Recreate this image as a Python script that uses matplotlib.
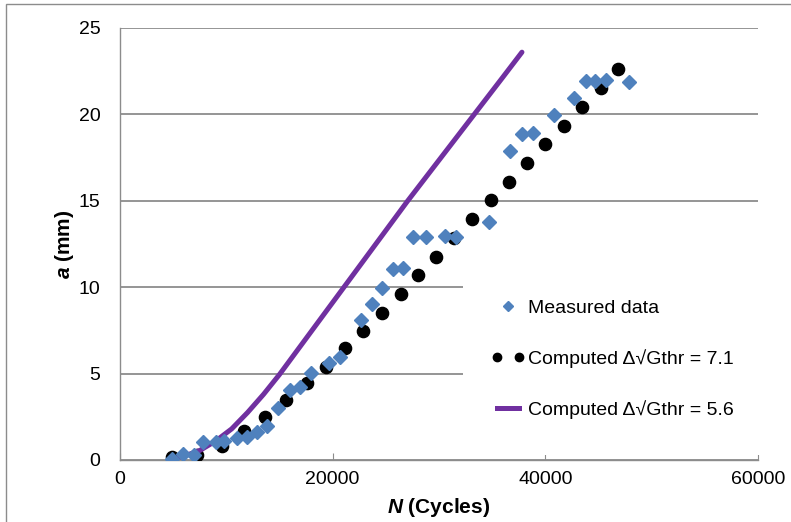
import matplotlib
matplotlib.use('Agg')
import matplotlib.pyplot as plt
from matplotlib.lines import Line2D
from matplotlib.legend_handler import HandlerLine2D
from matplotlib.patches import Rectangle

plt.rcParams['font.family'] = ['Liberation Sans', 'DejaVu Sans']
plt.rcParams['mathtext.fontset'] = 'custom'
plt.rcParams['mathtext.rm'] = 'Liberation Sans:bold'
plt.rcParams['mathtext.bfit'] = 'Liberation Sans:bold:italic'

# ── data ────────────────────────────────────────────────────────
meas_N = [4860, 5960, 6960, 7840, 9000, 9780, 11040, 11920, 12860, 13860,
          14830, 15990, 16930, 17940, 19660, 20700, 22640, 23680, 24680, 25650,
          26650, 27530, 28750, 30570, 31610, 34710, 36690, 37790, 38820, 40830,
          42740, 43840, 44690, 45690, 47880]
meas_a = [0.04, 0.35, 0.29, 1.06, 1.06, 1.12, 1.25, 1.31, 1.62, 1.97,
          2.99, 4.05, 4.24, 5.05, 5.59, 5.98, 8.10, 9.03, 9.97, 11.03,
          11.09, 12.89, 12.89, 12.98, 12.92, 13.79, 17.88, 18.85, 18.94, 19.97,
          20.93, 21.93, 21.93, 21.99, 21.86]

c71_N = [4860, 7250, 9570, 11660, 13640, 15590, 17560, 19350, 21170, 22890,
         24620, 26410, 28060, 29730, 31450, 33150, 34870, 36600, 38320, 40010,
         41740, 43460, 45190, 46850]
c71_a = [0.16, 0.29, 0.82, 1.68, 2.51, 3.47, 4.44, 5.40, 6.46, 7.47,
         8.53, 9.61, 10.71, 11.77, 12.83, 13.95, 15.05, 16.11, 17.17, 18.29,
         19.35, 20.45, 21.51, 22.63]

c56_N = [4900, 6000, 7500, 9000, 10500, 12000, 13500, 15000, 16500, 18000,
         19500, 21000, 22500, 24000, 25500, 27000, 28500, 30000, 31500, 33000,
         34500, 36000, 37800]
c56_a = [0.05, 0.22, 0.55, 1.1, 1.8, 2.75, 3.8, 4.95, 6.2, 7.45,
         8.7, 9.95, 11.2, 12.45, 13.7, 14.95, 16.15, 17.35, 18.55, 19.75,
         20.95, 22.15, 23.6]

xticks = [0, 20000, 40000, 60000]
yticks = [0, 5, 10, 15, 20, 25]

BLUE = '#4F81BD'
PURPLE = '#7030A0'
GRID = '#8C8C8C'

fig = plt.figure(figsize=(7.91, 5.22), dpi=100)
fig.patch.set_facecolor('white')
# outer chart border (only left/top fall inside the picture)
fig.patches.append(Rectangle((6/791, -0.2), 1.2, 1.2 - 4/522,
                             transform=fig.transFigure, fill=False,
                             ec='#8C8C8C', lw=1.0))

ax = fig.add_axes([120/791, 62/522, 638/791, 432/522])
ax.set_xlim(0, 60000)
ax.set_ylim(0, 25)
ax.set_xticks(xticks)
ax.set_yticks(yticks)
ax.yaxis.grid(True, color=GRID, lw=1.3)
ax.set_axisbelow(True)
for s in ['top', 'right']:
    ax.spines[s].set_visible(False)
for s in ['left', 'bottom']:
    ax.spines[s].set_color(GRID)
    ax.spines[s].set_linewidth(1.0)
ax.tick_params(axis='y', length=0, pad=14, labelsize=14)
ax.tick_params(axis='x', direction='in', length=5, color=GRID, pad=8, labelsize=14)

ax.plot(c71_N, c71_a, ls='none', marker='o', ms=8.8, color='black', zorder=3)
ax.plot(c56_N, c56_a, color=PURPLE, lw=3.6, zorder=4, solid_capstyle='round')
ax.plot(meas_N, meas_a, ls='none', marker='D', ms=7.2, color=BLUE, mec=BLUE, zorder=5)

# white legend area covering the grid
ax.add_patch(Rectangle((0.5376, 0.012), 0.47, 0.405, transform=ax.transAxes,
                       fc='white', ec='none', zorder=1.5, clip_on=False))

h_meas = Line2D([], [], ls='none', marker='D', ms=5.5, color=BLUE)
h_71 = Line2D([], [], ls='none', marker='o', ms=6, color='black')
h_56 = Line2D([], [], color=PURPLE, lw=3.6)
leg = ax.legend([h_meas, h_71, h_56],
                ['Measured data', 'Computed \u0394\u221aGthr = 7.1',
                 'Computed \u0394\u221aGthr = 5.6'],
                handler_map={h_meas: HandlerLine2D(numpoints=1)},
                numpoints=2, frameon=False, fontsize=14,
                loc='upper left', bbox_to_anchor=(0.581, 0.372),
                borderpad=0, borderaxespad=0, handlelength=1.75,
                handletextpad=0.15, labelspacing=1.65)

ax.set_xlabel(r'$\mathbfit{N}$ (Cycles)', fontsize=15, fontweight='bold', labelpad=6)
ax.set_ylabel(r'$\mathbfit{a}$ (mm)', fontsize=15, fontweight='bold', labelpad=2)

plt.savefig('out.png', dpi=100, facecolor='white')
